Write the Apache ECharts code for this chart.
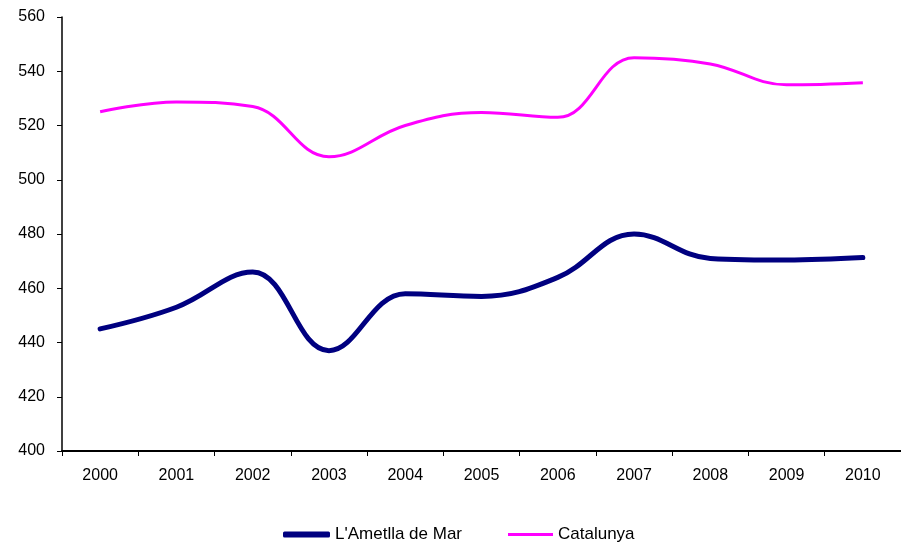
<!DOCTYPE html>
<html>
<head>
<meta charset="utf-8">
<script src="https://cdn.jsdelivr.net/npm/echarts@6/dist/echarts.min.js"></script>
<style>
  html, body { margin: 0; padding: 0; background: #fff; }
  #chart { width: 901px; height: 544px; }
</style>
</head>
<body>
<div id="chart"></div>
<script>
// anys
var years = ['2000', '2001', '2002', '2003', '2004', '2005', '2006', '2007', '2008', '2009', '2010'];
// valors llegits del gràfic
var ametlla = [445, 453, 466, 437, 458, 457, 464, 480, 471, 470.4, 471.3];
var catalunya = [525.1, 528.7, 527, 508.5, 520, 524.8, 523, 545, 542.7, 535, 535.8];

var font = 'Liberation Sans, Arial, sans-serif';

var myChart = echarts.init(document.getElementById('chart'));

myChart.setOption({
  animation: false,
  grid: { left: 62, right: -2, top: 17, bottom: 93, containLabel: false },
  legend: [
    {
      left: 278, top: 521,
      itemWidth: 47, itemHeight: 6, icon: 'roundRect',
      textStyle: { fontFamily: font, fontSize: 17, color: '#000' },
      data: ["L'Ametlla de Mar"]
    },
    {
      left: 503, top: 521,
      itemWidth: 45, itemHeight: 3, icon: 'rect',
      textStyle: { fontFamily: font, fontSize: 17, color: '#000' },
      data: ['Catalunya']
    }
  ],
  xAxis: {
    type: 'category',
    boundaryGap: true,
    data: years,
    axisLine: { lineStyle: { color: '#000', width: 2 } },
    axisTick: { show: true, length: 5, alignWithLabel: false, lineStyle: { color: '#000' } },
    axisLabel: { fontFamily: font, fontSize: 16, color: '#000', margin: 17 },
    splitLine: { show: false }
  },
  yAxis: {
    type: 'value',
    min: 400, max: 560, interval: 20,
    axisLine: { show: true, lineStyle: { color: '#000', width: 1.5 } },
    axisTick: { show: true, length: 5, lineStyle: { color: '#000' } },
    axisLabel: { fontFamily: font, fontSize: 16, color: '#000', margin: 17 },
    splitLine: { show: false }
  },
  series: [
    {
      name: "L'Ametlla de Mar",
      type: 'line',
      data: ametlla,
      smooth: 0.4,
      showSymbol: false,
      color: '#000080',
      lineStyle: { width: 5, color: '#000080', cap: 'round' }
    },
    {
      name: 'Catalunya',
      type: 'line',
      data: catalunya,
      smooth: 0.4,
      showSymbol: false,
      color: '#ff00ff',
      lineStyle: { width: 3, color: '#ff00ff' }
    }
  ]
});
</script>
</body>
</html>
